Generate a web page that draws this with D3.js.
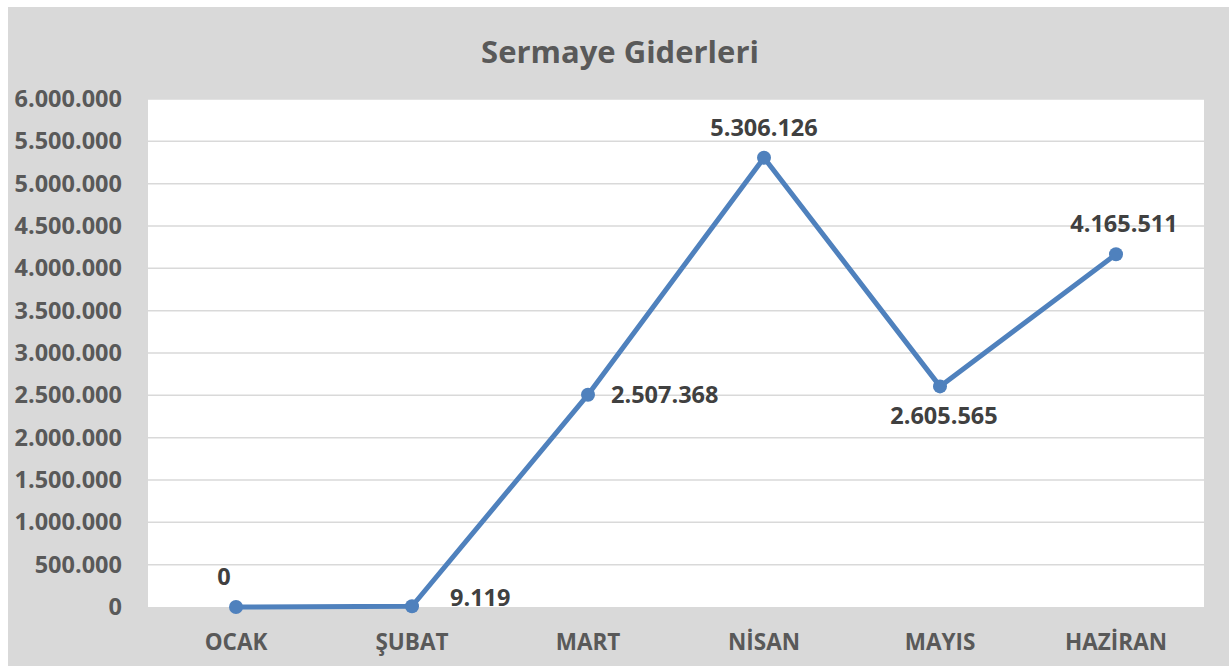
<!DOCTYPE html>
<html><head><meta charset="utf-8">
<script src="https://cdn.jsdelivr.net/npm/d3@7"></script>
<style>body{margin:0;background:#fff;} svg{display:block;}</style>
</head><body>
<script>
const categories = ["OCAK","ŞUBAT","MART","NİSAN","MAYIS","HAZİRAN"];
const values = [0, 9119, 2507368, 5306126, 2605565, 4165511];
const yTicks = [0,500000,1000000,1500000,2000000,2500000,3000000,3500000,4000000,4500000,5000000,5500000,6000000];
const labelPos = ["above","right","right","above","below","above"];
const title = "Sermaye Giderleri";

const W = 1229, H = 666;
const font = "'Open Sans', sans-serif";
const svg = d3.select("body").append("svg").attr("width", W).attr("height", H);
svg.append("rect").attr("x",8).attr("y",7).attr("width",W-8).attr("height",H-7).attr("fill","#d9d9d9");

const plot = {l:148, t:99, r:1204, b:607};
svg.append("rect").attr("x",plot.l).attr("y",plot.t).attr("width",plot.r-plot.l).attr("height",plot.b-plot.t).attr("fill","#fff");

const fmt = v => d3.format(",")(v).replace(/,/g,".");
const x = d3.scaleBand().domain(categories).range([plot.l, plot.r]);
const y = d3.scaleLinear().domain([0,6000000]).range([plot.b, plot.t]);

// gridlines
svg.append("g").selectAll("line").data(yTicks.slice(1)).join("line")
  .attr("x1",plot.l).attr("x2",plot.r)
  .attr("y1",d=>y(d)).attr("y2",d=>y(d))
  .attr("stroke","#d9d9d9").attr("stroke-width",1.5);

// y axis
const yAxis = svg.append("g").attr("transform",`translate(${plot.l},0)`)
  .call(d3.axisLeft(y).tickValues(yTicks).tickFormat(fmt).tickSize(0).tickPadding(26));
yAxis.select(".domain").remove();
yAxis.selectAll("text").attr("font-family",font).attr("font-weight","bold").attr("font-size","23.5px").attr("fill","#595959");

// x axis
const xAxis = svg.append("g").attr("transform",`translate(0,${plot.b})`)
  .call(d3.axisBottom(x).tickSize(0).tickPadding(27));
xAxis.select(".domain").remove();
xAxis.selectAll("text").attr("font-family",font).attr("font-weight","bold").attr("font-size","22.5px").attr("fill","#595959");

// title
svg.append("text").attr("x",620).attr("y",63).attr("text-anchor","middle")
  .attr("font-family",font).attr("font-weight","bold").attr("font-size","31px").attr("fill","#595959").text(title);

const cx = d => x(d) + x.bandwidth()/2;
const line = d3.line().x((d,i)=>cx(categories[i])).y(d=>y(d));
svg.append("path").datum(values).attr("d",line).attr("fill","none").attr("stroke","#4f81bd").attr("stroke-width",5).attr("stroke-linejoin","round");
svg.append("g").selectAll("circle").data(values).join("circle")
  .attr("cx",(d,i)=>cx(categories[i])).attr("cy",d=>y(d)).attr("r",7).attr("fill","#4f81bd");

// data labels (offsets relative to the point)
const labelDx = [-12, 38, 23, 0, 4, 8];
const labelDy = [-22, 0, 8, -22, 38, -22];
svg.append("g").selectAll("text").data(values).join("text")
  .attr("font-family",font).attr("font-weight","bold").attr("font-size","23.5px").attr("fill","#404040")
  .attr("text-anchor",(d,i)=>labelPos[i]==="right"?"start":"middle")
  .attr("x",(d,i)=>cx(categories[i]) + labelDx[i])
  .attr("y",(d,i)=>y(d) + labelDy[i])
  .text(d=>fmt(d));
</script>
</body></html>
